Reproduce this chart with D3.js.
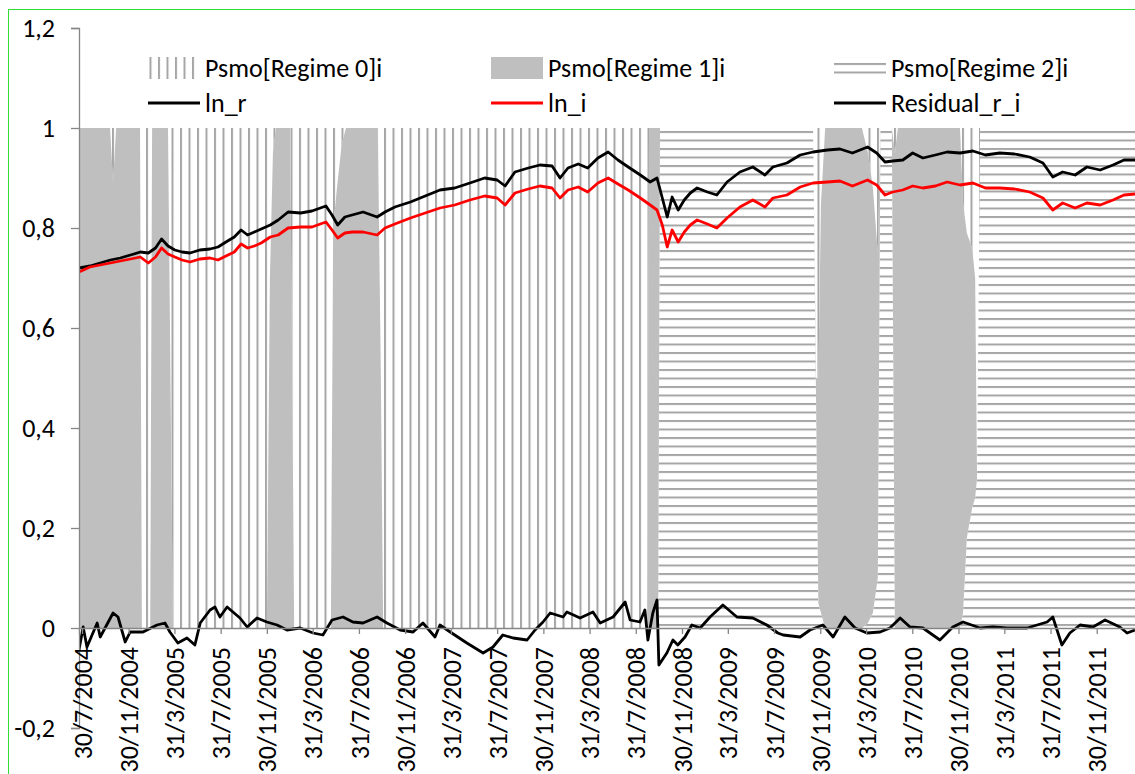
<!DOCTYPE html>
<html>
<head>
<meta charset="utf-8">
<script src="https://cdn.jsdelivr.net/npm/d3@7"></script>
<style>
  body { margin: 0; background: #fff; }
  svg { display: block; font-family: Carlito, Calibri, Lato, sans-serif; }
</style>
</head>
<body>
<svg id="chart" width="1135" height="774"></svg>
<script>
// tick labels on the date axis
const tickLabels = ["30/7/2004","30/11/2004","31/3/2005","31/7/2005","30/11/2005","31/3/2006",
  "31/7/2006","30/11/2006","31/3/2007","31/7/2007","30/11/2007","31/3/2008","31/7/2008",
  "30/11/2008","31/3/2009","31/7/2009","30/11/2009","31/3/2010","31/7/2010","30/11/2010",
  "31/3/2011","31/7/2011","30/11/2011"];
const yTicks = [-0.2, 0, 0.2, 0.4, 0.6, 0.8, 1, 1.2];

// sampled dates for ln_r and ln_i
const lineDates = ["2004-07-22","2004-08-20","2004-09-16","2004-10-13","2004-11-08","2004-12-05","2004-12-31",
  "2005-01-21","2005-02-09","2005-02-25","2005-03-14","2005-04-01","2005-04-20","2005-05-11","2005-06-06",
  "2005-07-03","2005-07-24","2005-08-14","2005-09-05","2005-09-23","2005-10-10","2005-10-28","2005-11-15",
  "2005-12-09","2005-12-30","2006-01-25","2006-02-27","2006-03-29","2006-05-05","2006-05-21","2006-06-05",
  "2006-06-24","2006-07-13","2006-08-11","2006-09-17","2006-10-08","2006-11-03","2006-12-14","2007-01-22",
  "2007-03-02","2007-04-10","2007-05-20","2007-06-28","2007-07-31","2007-08-21","2007-09-16","2007-10-21",
  "2007-11-21","2007-12-23","2008-01-13","2008-02-03","2008-03-01","2008-03-26","2008-04-22","2008-05-19",
  "2008-06-14","2008-07-11","2008-08-12","2008-09-07","2008-09-25","2008-10-09","2008-10-22","2008-11-04",
  "2008-11-20","2008-12-06","2008-12-22","2009-01-09","2009-02-05","2009-03-02","2009-03-29","2009-05-02",
  "2009-06-05","2009-07-07","2009-07-28","2009-09-03","2009-10-08","2009-11-11","2009-12-19","2010-01-21",
  "2010-02-23","2010-04-04","2010-04-28","2010-05-20","2010-06-09","2010-07-06","2010-08-01","2010-08-28",
  "2010-09-30","2010-10-31","2010-12-04","2011-01-07","2011-02-09","2011-03-19","2011-04-27","2011-06-06",
  "2011-07-11","2011-08-06","2011-09-01","2011-10-04","2011-11-04","2011-12-09","2012-01-12","2012-02-10",
  "2012-03-10"];

const lnR = [0.720,0.724,0.730,0.736,0.740,0.746,0.752,0.750,0.760,0.778,
  0.764,0.756,0.752,0.750,0.756,0.758,0.762,0.772,0.782,0.796,
  0.786,0.792,0.798,0.806,0.816,0.832,0.830,0.834,0.844,0.826,
  0.806,0.822,0.826,0.832,0.822,0.832,0.842,0.852,0.864,0.876,
  0.880,0.890,0.900,0.896,0.884,0.912,0.920,0.926,0.924,0.900,
  0.920,0.928,0.920,0.940,0.952,0.936,0.922,0.906,0.892,0.900,
  0.860,0.822,0.862,0.836,0.856,0.870,0.880,0.872,0.866,0.892,
  0.912,0.922,0.906,0.922,0.930,0.946,0.952,0.956,0.958,0.950,
  0.962,0.950,0.932,0.934,0.936,0.950,0.940,0.946,0.952,0.950,
  0.954,0.946,0.950,0.948,0.942,0.930,0.902,0.912,0.906,0.922,
  0.916,0.926,0.936,0.936];

const lnI = [0.712,0.722,0.726,0.730,0.734,0.738,0.742,0.730,0.742,0.760,
  0.748,0.742,0.736,0.732,0.738,0.740,0.736,0.744,0.752,0.768,
  0.760,0.764,0.770,0.782,0.786,0.800,0.802,0.802,0.812,0.796,
  0.780,0.790,0.792,0.792,0.786,0.800,0.808,0.820,0.830,0.840,
  0.846,0.856,0.864,0.860,0.846,0.870,0.878,0.884,0.880,0.860,
  0.876,0.882,0.872,0.890,0.900,0.888,0.876,0.860,0.846,0.836,
  0.806,0.762,0.796,0.772,0.792,0.806,0.816,0.808,0.800,0.820,
  0.842,0.856,0.842,0.860,0.866,0.882,0.890,0.892,0.894,0.884,
  0.896,0.886,0.866,0.872,0.876,0.884,0.880,0.884,0.892,0.886,
  0.890,0.880,0.880,0.878,0.872,0.860,0.836,0.850,0.840,0.850,
  0.846,0.856,0.866,0.868];

// residual read at its own turning points
const residDates = ["2004-07-22","2004-08-02","2004-08-12","2004-09-08","2004-09-16","2004-10-20","2004-11-02",
  "2004-11-21","2004-12-04","2005-01-07","2005-02-13","2005-03-06","2005-03-19","2005-04-09","2005-05-03",
  "2005-05-24","2005-06-07","2005-07-03","2005-07-16","2005-07-29","2005-08-17","2005-09-20","2005-10-09",
  "2005-11-04","2005-11-30","2005-12-27","2006-01-22","2006-02-26","2006-04-01","2006-04-27","2006-05-21",
  "2006-06-19","2006-07-15","2006-08-11","2006-09-17","2006-10-13","2006-11-17","2006-12-21","2007-01-16",
  "2007-02-17","2007-03-02","2007-03-29","2007-05-12","2007-06-24","2007-07-20","2007-08-15","2007-09-11",
  "2007-10-18","2007-11-08","2007-11-29","2007-12-18","2008-01-21","2008-01-31","2008-03-06","2008-04-09",
  "2008-04-28","2008-06-01","2008-07-03","2008-07-16","2008-08-11","2008-08-24","2008-09-01","2008-09-14",
  "2008-09-25","2008-09-30","2008-10-21","2008-11-06","2008-11-19","2008-12-08","2008-12-26","2009-01-17",
  "2009-02-12","2009-03-18","2009-04-24","2009-06-05","2009-07-12","2009-08-10","2009-08-24","2009-10-08",
  "2009-11-03","2009-12-07","2010-01-03","2010-02-03","2010-03-02","2010-04-02","2010-05-07","2010-06-02",
  "2010-06-29","2010-07-25","2010-08-28","2010-10-12","2010-11-15","2010-12-12","2011-01-26","2011-03-01",
  "2011-04-07","2011-05-30","2011-07-22","2011-08-06","2011-08-30","2011-09-20","2011-10-17","2011-11-20",
  "2011-12-22","2012-01-30","2012-02-18","2012-03-10"];
const residual = [-0.044,0.002,-0.038,0.010,-0.018,0.030,0.022,-0.028,-0.008,-0.008,
  0.006,0.010,-0.008,-0.030,-0.020,-0.034,0.010,0.036,0.042,0.022,
  0.042,0.020,0.002,0.020,0.012,0.006,-0.004,0.000,-0.010,-0.014,
  0.016,0.022,0.012,0.010,0.022,0.010,-0.004,-0.008,0.010,-0.018,
  0.006,-0.008,-0.030,-0.050,-0.038,-0.014,-0.020,-0.024,-0.004,0.012,
  0.030,0.022,0.032,0.020,0.032,0.010,0.022,0.052,0.016,0.012,
  0.036,-0.024,0.030,0.056,-0.074,-0.050,-0.024,-0.034,-0.018,0.006,
  0.000,0.022,0.046,0.022,0.020,0.006,-0.010,-0.014,-0.018,-0.004,
  0.006,-0.018,0.022,0.000,-0.010,-0.008,0.000,0.020,0.002,0.000,
  -0.024,0.002,0.012,0.000,0.002,0.000,0.000,0.012,0.022,-0.034,
  -0.010,0.006,0.002,0.016,0.002,-0.010,-0.004];

// smoothed regime probabilities at their turning dates
const regimeDates = ["2004-07-22","2004-10-12","2004-10-20","2004-10-28","2004-12-30","2005-01-04","2005-01-26",
  "2005-01-31","2005-03-14","2005-03-27","2005-11-30","2005-12-08","2005-12-16","2005-12-24","2006-01-30",
  "2006-02-04","2006-02-10","2006-05-18","2006-05-24","2006-06-03","2006-06-16","2006-06-27","2006-09-19",
  "2006-09-27","2006-10-03","2008-08-30","2008-09-04","2008-09-28","2008-10-03","2009-11-11","2009-11-19",
  "2009-11-25","2009-12-02","2009-12-13","2010-03-20","2010-04-05","2010-04-18","2010-05-01","2010-05-08",
  "2010-06-07","2010-06-15","2010-06-23","2010-12-04","2010-12-12","2010-12-22","2011-01-05","2011-01-13",
  "2011-01-18","2011-01-26","2012-03-10"];
const regime0 = [0,0,0.11,0,0,1,1,0,0,1, 1,0.3,0.05,0,0,0.4,1,1,0.2,0.12,
  0.03,0,0,0.5,1,1,0,0,0,0, 0.5,0.5,0.15,0,0,0.05,0.12,0.25,0,0,
  0.05,0,0,0.15,0.21,0.24,0.3,0.7,0,0];
const regime1 = [1,1,0.89,1,1,0,0,1,1,0, 0,0.7,0.95,1,1,0.6,0,0,0.8,0.88,
  0.97,1,1,0.5,0,0,1,1,0,0, 0.05,0.45,0.82,1,1,0.94,0.85,0.65,0,0,
  0.95,1,1,0.82,0.61,0.52,0.44,0,0,0];
const regime2 = [0,0,0,0,0,0,0,0,0,0, 0,0,0,0,0,0,0,0,0,0,
  0,0,0,0,0,0,0,0,1,1, 0.45,0.05,0.03,0,0,0.01,0.03,0.1,1,1,
  0,0,0,0.03,0.18,0.24,0.26,0.3,1,1];

const parseISO = d3.timeParse("%Y-%m-%d");
const parseTick = d3.timeParse("%d/%m/%Y");

const svg = d3.select("#chart");
const W = 1135, H = 774;
const plot = {left: 79, right: 1135, top: 28, bottom: 728};
const fontSize = 26;

const x = d3.scaleTime()
  .domain([parseISO("2004-07-22"), parseISO("2012-03-10")])
  .range([plot.left, plot.right]);
const y = d3.scaleLinear().domain([-0.2, 1.2]).range([plot.bottom, plot.top]);

const axisColor = "#868686";
const hatch = "#a6a6a6";
const solid = "#bfbfbf";

// patterns: narrow vertical and horizontal lines
const defs = svg.append("defs");
const pv = defs.append("pattern").attr("id", "vlines")
  .attr("patternUnits", "userSpaceOnUse").attr("width", 8.5).attr("height", 20)
  .attr("x", 78);
pv.append("rect").attr("width", 2).attr("height", 20).attr("fill", hatch);
const ph = defs.append("pattern").attr("id", "hlines")
  .attr("patternUnits", "userSpaceOnUse").attr("width", 20).attr("height", 8.5)
  .attr("y", 624);
ph.append("rect").attr("width", 20).attr("height", 2).attr("fill", hatch);
defs.append("clipPath").attr("id", "clip").append("rect")
  .attr("x", plot.left).attr("y", plot.top)
  .attr("width", plot.right - plot.left).attr("height", plot.bottom - plot.top);

// chart border
svg.append("rect").attr("x", 8.5).attr("y", 9.5).attr("width", W).attr("height", H)
  .attr("fill", "none").attr("stroke", "#33dd33").attr("stroke-width", 1);

// stacked regime areas (regime 2 at the bottom, regime 0 on top)
const regimeRows = regimeDates.map((d, i) => ({
  date: parseISO(d), r0: regime0[i], r1: regime1[i], r2: regime2[i]
}));
const layers = d3.stack().keys(["r2", "r1", "r0"])(regimeRows);
const fills = {r0: "url(#vlines)", r1: solid, r2: "url(#hlines)"};
const area = d3.area()
  .x(d => x(d.data.date))
  .y0(d => y(d[0]))
  .y1(d => y(d[1]));

const gPlot = svg.append("g").attr("clip-path", "url(#clip)");
gPlot.selectAll("path.regime").data(layers).join("path")
  .attr("class", "regime")
  .attr("fill", d => fills[d.key])
  .attr("d", area);

// axes
const yAxis = d3.axisLeft(y).tickValues(yTicks).tickSize(8).tickPadding(16)
  .tickFormat(d => String(+d.toFixed(1)).replace(".", ","));
const gy = svg.append("g").attr("transform", `translate(${plot.left},0)`).call(yAxis);
gy.select(".domain").attr("stroke", axisColor).attr("stroke-width", 1.3);
gy.selectAll(".tick line").attr("stroke", axisColor).attr("stroke-width", 1.3);
gy.selectAll(".tick text").attr("font-size", fontSize).attr("fill", "#000")
  .attr("font-family", "Carlito, Calibri, Lato, sans-serif");

const xAxis = d3.axisBottom(x).tickValues(tickLabels.map(parseTick)).tickSize(6)
  .tickFormat(d3.timeFormat("%-d/%-m/%Y"));
const gx = svg.append("g").attr("transform", `translate(0,${y(0)})`).call(xAxis);
gx.select(".domain").attr("stroke", axisColor).attr("stroke-width", 1.3);
gx.selectAll(".tick line").attr("stroke", axisColor).attr("stroke-width", 1.3);
gx.selectAll(".tick text")
  .attr("font-size", fontSize).attr("fill", "#000")
  .attr("font-family", "Carlito, Calibri, Lato, sans-serif")
  .attr("text-anchor", "end")
  .attr("transform", "rotate(-90)")
  .attr("x", -19).attr("y", 0).attr("dy", "0.35em");

// lines
const lnRows = lineDates.map((d, i) => ({date: parseISO(d), r: lnR[i], i: lnI[i]}));
const resRows = residDates.map((d, i) => ({date: parseISO(d), res: residual[i]}));
const series = [
  {key: "r", color: "#000", rows: lnRows},
  {key: "i", color: "#ff0000", rows: lnRows},
  {key: "res", color: "#000", rows: resRows}
];
gPlot.selectAll("path.series").data(series).join("path")
  .attr("class", "series")
  .attr("fill", "none")
  .attr("stroke", d => d.color)
  .attr("stroke-width", 2.8)
  .attr("stroke-linejoin", "round")
  .attr("d", s => d3.line().x(d => x(d.date)).y(d => y(d[s.key]))(s.rows));

// legend
const legendItems = [
  {name: "Psmo[Regime 0]i", kind: "area", fill: "url(#vlines)", col: 0, row: 0},
  {name: "Psmo[Regime 1]i", kind: "area", fill: solid, col: 1, row: 0},
  {name: "Psmo[Regime 2]i", kind: "area", fill: "url(#hlines)", col: 2, row: 0},
  {name: "ln_r", kind: "line", color: "#000", col: 0, row: 1},
  {name: "ln_i", kind: "line", color: "#ff0000", col: 1, row: 1},
  {name: "Residual_r_i", kind: "line", color: "#000", col: 2, row: 1}
];
const colX = [148, 491, 834];
const rowY = [68, 103];
const gl = svg.append("g");
legendItems.forEach(it => {
  const g = gl.append("g").attr("transform", `translate(${colX[it.col]},${rowY[it.row]})`);
  if (it.kind === "area") {
    g.append("rect").attr("x", 0).attr("y", -11).attr("width", 52).attr("height", 22)
      .attr("fill", it.fill);
  } else {
    g.append("line").attr("x1", 0).attr("x2", 52).attr("stroke", it.color).attr("stroke-width", 2.8);
  }
  g.append("text").attr("x", 57).attr("dy", "0.35em").attr("font-size", fontSize)
    .attr("fill", "#000").text(it.name);
});
</script>
</body>
</html>
